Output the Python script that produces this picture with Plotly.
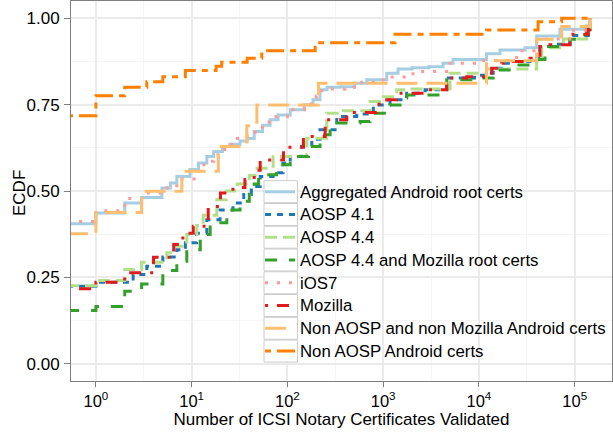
import plotly.graph_objects as go

# ---- data ----
series_names = [
    "Aggregated Android root certs",
    "AOSP 4.1",
    "AOSP 4.4",
    "AOSP 4.4 and Mozilla root certs",
    "iOS7",
    "Mozilla",
    "Non AOSP and non Mozilla Android certs",
    "Non AOSP Android certs",
]

agg_x = [0.5, 1, 2, 3, 4.9, 6, 7, 9.6, 11.8, 14.4, 17, 21, 25, 32, 38, 45, 55, 66, 80, 107, 150, 185, 219, 260, 355, 500, 674, 1090, 1430, 2000, 3000, 4220, 5370, 12000, 16600, 30300, 40100, 70200, 133000, 144500]
agg_y = [0.405, 0.436, 0.465, 0.481, 0.509, 0.523, 0.542, 0.562, 0.581, 0.600, 0.614, 0.629, 0.635, 0.645, 0.652, 0.672, 0.690, 0.706, 0.720, 0.735, 0.750, 0.764, 0.793, 0.800, 0.802, 0.812, 0.822, 0.841, 0.853, 0.857, 0.860, 0.870, 0.881, 0.897, 0.908, 0.915, 0.949, 0.968, 0.978, 1.0]

a41_x = [0.5, 1, 2.45, 3.4, 5, 7, 8.6, 11.3, 14.4, 19.8, 27, 35, 42, 52, 71, 90, 107, 140, 180, 219, 328, 530, 790, 1180, 1760, 2740, 4610, 9000, 12000, 14100, 17300, 23800, 34200, 43400, 59300, 89300, 139000, 144500]
a41_y = [0.224, 0.236, 0.258, 0.282, 0.309, 0.330, 0.350, 0.378, 0.417, 0.445, 0.465, 0.490, 0.513, 0.542, 0.553, 0.580, 0.600, 0.629, 0.650, 0.677, 0.716, 0.723, 0.749, 0.764, 0.783, 0.793, 0.827, 0.835, 0.841, 0.855, 0.870, 0.875, 0.884, 0.918, 0.925, 0.950, 0.966, 1.0]

a44_x = [0.5, 1, 2, 3, 5.5, 6.5, 8.9, 11.3, 13.2, 18.3, 23, 30, 40, 46, 71, 159, 258, 384, 730, 1005, 1387, 1910, 4990, 12000, 40100, 45300, 76000, 133000, 144500]
a44_y = [0.226, 0.241, 0.273, 0.294, 0.321, 0.340, 0.374, 0.400, 0.430, 0.475, 0.500, 0.520, 0.545, 0.566, 0.600, 0.653, 0.725, 0.732, 0.759, 0.773, 0.793, 0.795, 0.841, 0.853, 0.889, 0.915, 0.940, 0.970, 1.0]

a44moz_x = [0.5, 1, 2, 3, 5, 7, 8.9, 12.3, 15.6, 23.3, 32, 40, 45, 50, 77, 107, 166, 219, 279, 574, 730, 1180, 1500, 1760, 4610, 9490, 14100, 22900, 40100, 49000, 89300, 123000, 133000, 144500]
a44moz_y = [0.154, 0.166, 0.210, 0.231, 0.270, 0.297, 0.330, 0.374, 0.408, 0.445, 0.470, 0.500, 0.520, 0.547, 0.576, 0.600, 0.629, 0.663, 0.697, 0.701, 0.725, 0.749, 0.769, 0.778, 0.822, 0.827, 0.850, 0.865, 0.881, 0.918, 0.939, 0.952, 0.966, 1.0]

ios_x = [0.5, 1, 2, 3, 4.9, 7, 11.8, 14.4, 17, 21, 25, 30, 38, 46, 55, 70, 100, 150, 200, 219, 280, 400, 600, 1000, 2050, 5000, 9000, 24800, 40000, 89300, 139000, 144500]
ios_y = [0.412, 0.443, 0.478, 0.494, 0.509, 0.535, 0.576, 0.586, 0.605, 0.620, 0.635, 0.652, 0.665, 0.685, 0.700, 0.715, 0.735, 0.752, 0.775, 0.790, 0.795, 0.800, 0.815, 0.830, 0.846, 0.870, 0.878, 0.906, 0.940, 0.965, 0.978, 1.0]

moz_x = [0.5, 1, 2, 4, 6.5, 8.1, 10.4, 14.9, 20, 27, 36, 45, 52, 91, 147, 248, 417, 857, 1090, 1387, 2740, 4610, 7460, 12000, 13600, 17300, 21100, 34200, 43400, 55200, 89300, 139000, 144500]
moz_y = [0.217, 0.236, 0.263, 0.308, 0.345, 0.378, 0.398, 0.455, 0.494, 0.510, 0.533, 0.560, 0.590, 0.627, 0.658, 0.706, 0.727, 0.751, 0.764, 0.783, 0.793, 0.827, 0.831, 0.841, 0.855, 0.870, 0.875, 0.884, 0.918, 0.923, 0.954, 0.968, 1.0]

nonaosp_nonmoz_x = [0.5, 1, 3, 7.9, 19, 37.7, 48, 211, 12000, 40100, 73100, 144500]
nonaosp_nonmoz_y = [0.376, 0.438, 0.499, 0.557, 0.629, 0.689, 0.749, 0.812, 0.877, 0.939, 0.976, 1.0]

nonaosp_x = [0.5, 1, 2, 3.4, 5, 8.6, 18, 20.6, 38, 54, 195, 1330, 12000, 41500, 73100, 144500]
nonaosp_y = [0.718, 0.776, 0.800, 0.816, 0.831, 0.849, 0.861, 0.873, 0.884, 0.906, 0.929, 0.954, 0.966, 0.990, 1.0, 1.0]

x_tick_vals = [1, 10, 100, 1000, 10000, 100000]
x_tick_text = ["10<sup>0</sup>", "10<sup>1</sup>", "10<sup>2</sup>", "10<sup>3</sup>", "10<sup>4</sup>", "10<sup>5</sup>"]
x_minor_vals = [3.1623, 31.623, 316.23, 3162.3, 31623, 316230]
y_tick_vals = [0.0, 0.25, 0.50, 0.75, 1.00]
y_tick_text = ["0.00", "0.25", "0.50", "0.75", "1.00"]
y_minor_vals = [0.125, 0.375, 0.625, 0.875]
x_title = "Number of ICSI Notary Certificates Validated"
y_title = "ECDF"

# ---- styling ----
colors = ["#A6CEE3", "#1F78B4", "#B2DF8A", "#33A02C", "#FB9A99", "#E31A1C", "#FDBF6F", "#FF7F00"]
dashes = ["solid", "6px,6px", "12px,6px", "12px,12px", "3px,9px", "3px,9px,12px,9px", "21px,9px", "6px,6px,18px,6px"]

xs = [agg_x, a41_x, a44_x, a44moz_x, ios_x, moz_x, nonaosp_nonmoz_x, nonaosp_x]
ys = [agg_y, a41_y, a44_y, a44moz_y, ios_y, moz_y, nonaosp_nonmoz_y, nonaosp_y]

W, H = 613, 432
ML, MR, MT, MB = 71, 1, 1, 51
PW, PH = W - ML - MR, H - MT - MB

fig = go.Figure()
for name, x, y, c, d in zip(series_names, xs, ys, colors, dashes):
    fig.add_trace(go.Scatter(x=x, y=y, mode="lines",
                             name='<span style="font-size:16.8px">' + name + '</span>',
                             line=dict(color=c, width=3, dash=d, shape="hv")))

# legend key boxes (ggplot-style grey key outlines)
row0, row_h = 191.7, 22.76
box_x0, box_x1 = 264.0, 297.5
shapes = []
for i in range(len(series_names)):
    cy = row0 + i * row_h
    shapes.append(dict(type="rect", xref="paper", yref="paper", layer="above",
                       x0=(box_x0 - ML) / PW, x1=(box_x1 - ML) / PW,
                       y0=(MT + PH - (cy - 11)) / PH, y1=(MT + PH - (cy + 11)) / PH,
                       line=dict(color="#CCCCCC", width=1), fillcolor="white"))

font_family = "Liberation Sans, Arial, sans-serif"
fig.update_layout(
    width=W, height=H,
    margin=dict(l=ML, r=MR, t=MT, b=MB),
    paper_bgcolor="white", plot_bgcolor="white",
    font=dict(family=font_family, size=17, color="black"),
    showlegend=True,
    legend=dict(x=(260 - ML) / PW, y=0.5413, xanchor="left", yanchor="top",
                bgcolor="rgba(0,0,0,0)", font=dict(size=15.2),
                tracegroupgap=0),
    shapes=shapes,
    annotations=[dict(text=y_title, xref="paper", yref="paper",
                      x=(19 - ML) / PW, y=(MT + PH - 193) / PH,
                      xanchor="center", yanchor="middle", textangle=-90,
                      showarrow=False, font=dict(size=17))],
)
fig.update_xaxes(
    type="log", range=[-0.26, 5.39], automargin=False,
    tickvals=x_tick_vals, ticktext=x_tick_text,
    ticks="outside", ticklen=5, tickcolor="#7F7F7F",
    showgrid=True, gridcolor="#EBEBEB", gridwidth=1.5,
    minor=dict(tickvals=x_minor_vals, showgrid=True, gridcolor="#F5F5F5", gridwidth=1, ticks=""),
    showline=True, linecolor="#7F7F7F", linewidth=1, mirror=True,
    zeroline=False,
    title=dict(text=x_title, standoff=2, font=dict(size=17)),
    tickfont=dict(size=16.5),
)
fig.update_yaxes(
    range=[-0.05, 1.05], automargin=False,
    tickvals=y_tick_vals, ticktext=y_tick_text,
    ticks="outside", ticklen=6, tickcolor="#7F7F7F", ticklabelstandoff=1,
    showgrid=True, gridcolor="#EBEBEB", gridwidth=1.5,
    minor=dict(tickvals=y_minor_vals, showgrid=True, gridcolor="#F5F5F5", gridwidth=1, ticks=""),
    showline=True, linecolor="#7F7F7F", linewidth=1, mirror=True,
    zeroline=False,
    tickfont=dict(size=17),
)

fig.write_html("out.html", config={"displayModeBar": False},
               post_script="document.body.style.margin='0px';")
